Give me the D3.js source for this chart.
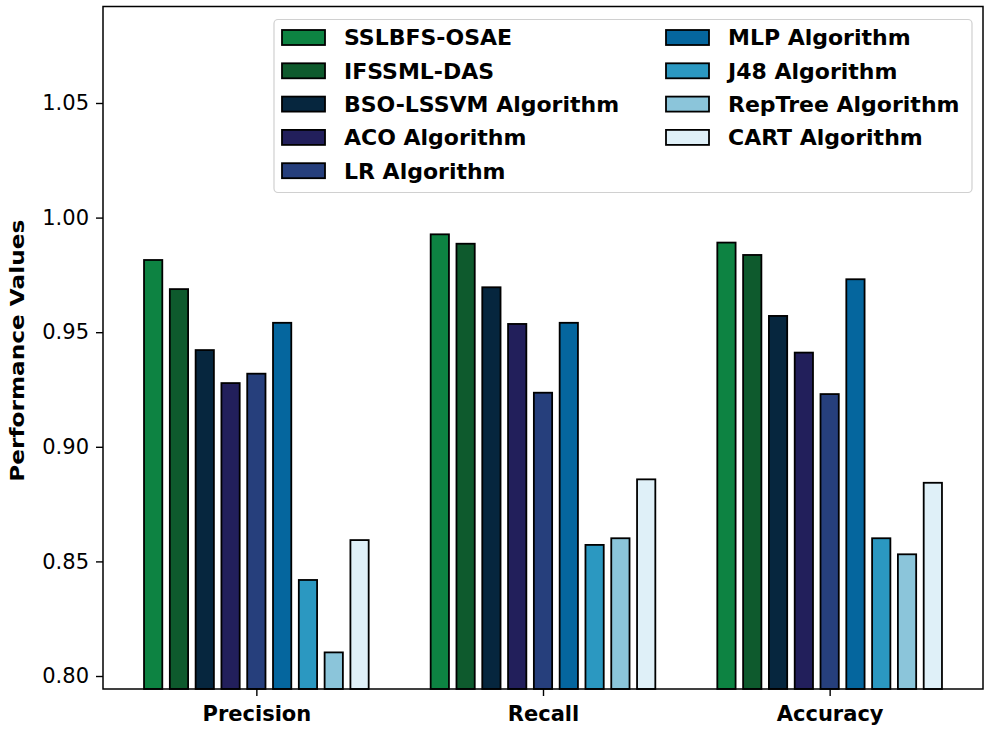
<!DOCTYPE html>
<html>
<head>
<meta charset="utf-8">
<script src="https://cdn.jsdelivr.net/npm/d3@7"></script>
<style>
  html, body { margin: 0; padding: 0; background: #fff; }
  svg { display: block; }
</style>
</head>
<body>
<svg id="chart" width="991" height="732"></svg>
<script>
const categories = ["Precision", "Recall", "Accuracy"];
const seriesNames = ["SSLBFS-OSAE", "IFSSML-DAS", "BSO-LSSVM Algorithm", "ACO Algorithm", "LR Algorithm",
                     "MLP Algorithm", "J48 Algorithm", "RepTree Algorithm", "CART Algorithm"];
const seriesColors = ["#0d8342", "#0e5a2d", "#06263e", "#221f5b", "#263f7c", "#05669e", "#2b98c1", "#8bc5da", "#dff0f8"];
// values[series][category]
const sslbfs  = [0.9815, 0.9927, 0.9891];
const ifssml  = [0.9688, 0.9886, 0.9837];
const bso     = [0.9422, 0.9696, 0.9571];
const aco     = [0.9278, 0.9536, 0.9411];
const lr      = [0.9319, 0.9236, 0.9230];
const mlp     = [0.9541, 0.9541, 0.9731];
const j48     = [0.8419, 0.8572, 0.8601];
const reptree = [0.8103, 0.8601, 0.8531];
const cart    = [0.8593, 0.8858, 0.8843];
const seriesValues = [sslbfs, ifssml, bso, aco, lr, mlp, j48, reptree, cart];
const yTicks = [0.80, 0.85, 0.90, 0.95, 1.00, 1.05];

const svg = d3.select("#chart");
const pLeft = 103, pRight = 983, pTop = 6.5, pBottom = 689;

const x = d3.scaleLinear().domain([-0.535, categories.length - 1 + 0.535]).range([pLeft, pRight]);
const y = d3.scaleLinear().domain([0.79433, 1.0921]).range([pBottom, pTop]);

const barW = 0.07, barStep = 0.09;
const nS = seriesNames.length;
const sw = 1.8;

// bars
seriesValues.forEach((vals, si) => {
  const off = (si - (nS - 1) / 2) * barStep;
  svg.append("g").selectAll("rect").data(vals).join("rect")
    .attr("x", (d, ci) => x(ci + off - barW / 2) + sw / 2)
    .attr("width", (d, ci) => x(ci + off + barW / 2) - x(ci + off - barW / 2) - sw)
    .attr("y", d => y(d))
    .attr("height", d => y(y.domain()[0]) - y(d))
    .attr("fill", seriesColors[si])
    .attr("stroke", "#000")
    .attr("stroke-width", sw);
});

// y axis
const yAxis = d3.axisLeft(y).tickValues(yTicks).tickFormat(d3.format(".2f")).tickSize(7).tickPadding(7);
const gy = svg.append("g").attr("transform", `translate(${pLeft},0)`).call(yAxis);
gy.select(".domain").remove();
gy.selectAll("line").attr("stroke", "#000").attr("stroke-width", 1.4);
gy.selectAll("text").attr("font-family", "DejaVu Sans").attr("font-size", 21).attr("fill", "#000");

// x axis
const xAxis = d3.axisBottom(x).tickValues(d3.range(categories.length)).tickFormat(i => categories[i]).tickSize(7).tickPadding(10);
const gx = svg.append("g").attr("transform", `translate(0,${pBottom})`).call(xAxis);
gx.select(".domain").remove();
gx.selectAll("line").attr("stroke", "#000").attr("stroke-width", 1.4);
gx.selectAll("text").attr("font-family", "DejaVu Sans").attr("font-weight", "bold").attr("font-size", 21).attr("fill", "#000");

// frame
svg.append("rect").attr("x", pLeft).attr("y", pTop).attr("width", pRight - pLeft).attr("height", pBottom - pTop)
  .attr("fill", "none").attr("stroke", "#000").attr("stroke-width", 1.5);

// y label
svg.append("text")
  .attr("transform", `translate(24,${(pTop + pBottom) / 2 + 3}) rotate(-90)`)
  .attr("text-anchor", "middle")
  .attr("font-family", "DejaVu Sans")
  .attr("font-weight", "bold")
  .attr("font-size", 20)
  .attr("textLength", 262)
  .attr("lengthAdjust", "spacingAndGlyphs")
  .text("Performance Values");

// legend
const lg = svg.append("g");
lg.append("rect").attr("x", 274).attr("y", 19.5).attr("width", 698).attr("height", 173).attr("rx", 4)
  .attr("fill", "#fff").attr("fill-opacity", 0.85).attr("stroke", "#d0d0d0").attr("stroke-width", 1.2);
const colX = [282, 666];
seriesNames.forEach((name, i) => {
  const col = i < 5 ? 0 : 1;
  const row = i < 5 ? i : i - 5;
  const cy = 37.5 + row * 33.3;
  lg.append("rect").attr("x", colX[col]).attr("y", cy - 7.5).attr("width", 43).attr("height", 15)
    .attr("fill", seriesColors[i]).attr("stroke", "#000").attr("stroke-width", 1.8);
  lg.append("text").attr("x", colX[col] + 62).attr("y", cy).attr("dy", "0.36em")
    .attr("font-family", "DejaVu Sans").attr("font-weight", "bold").attr("font-size", 22)
    .text(name);
});
</script>
</body>
</html>
